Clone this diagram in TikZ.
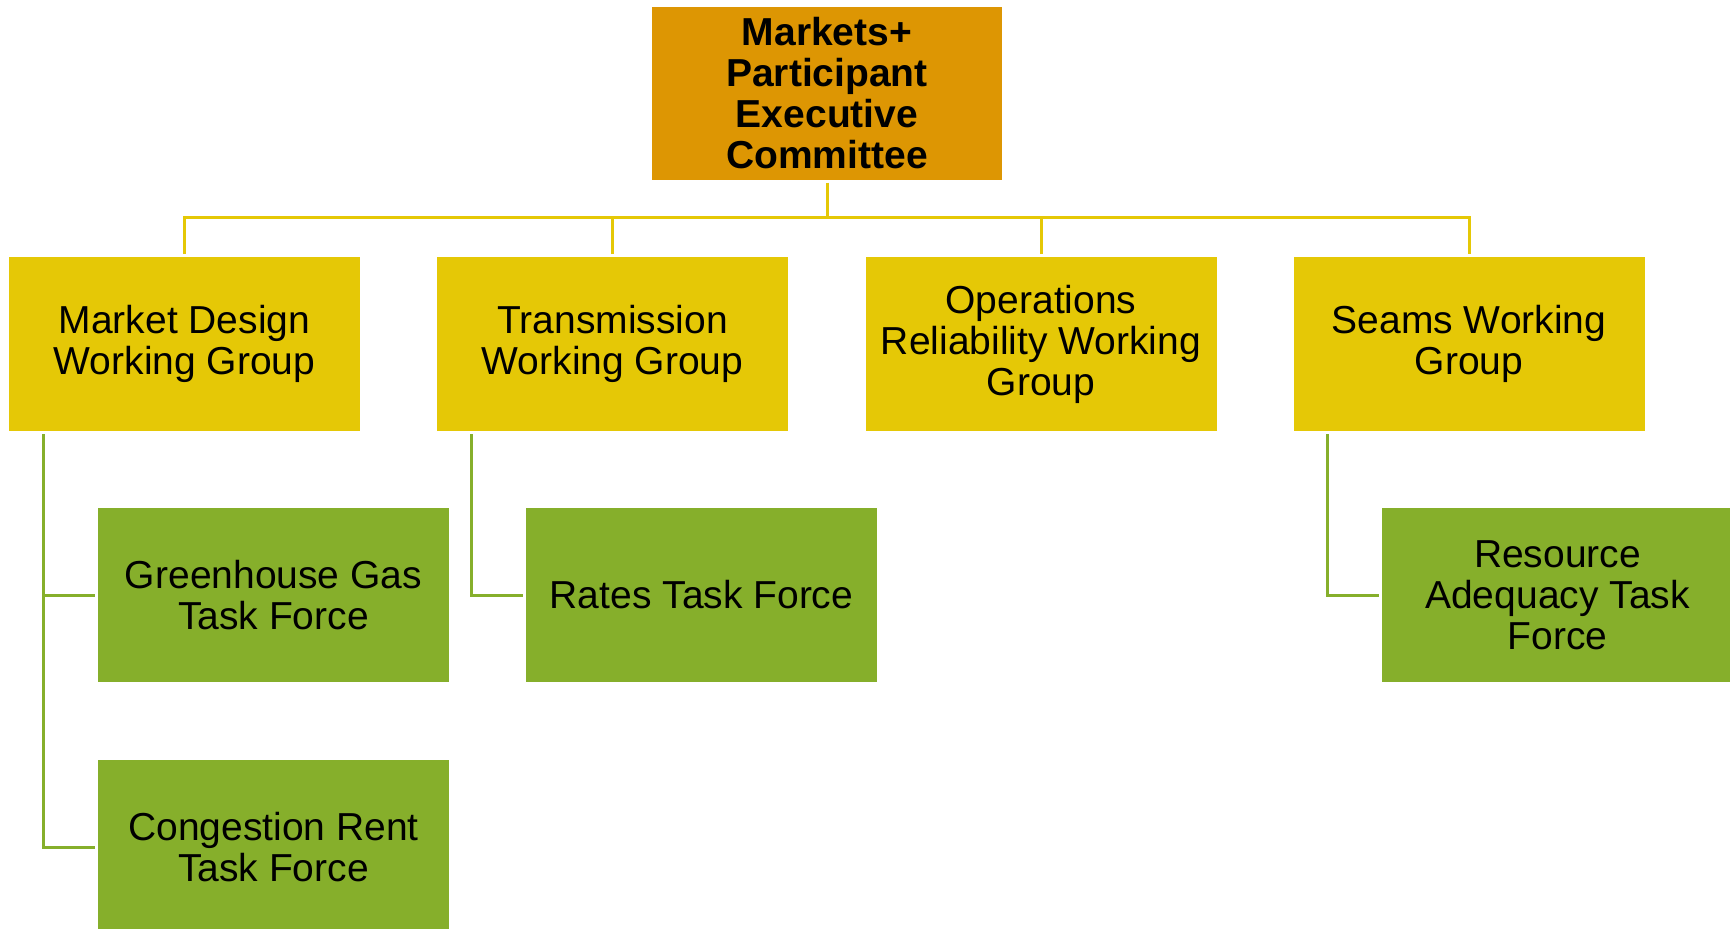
\documentclass[tikz,border=0pt]{standalone}
\usepackage{fontspec}
\setmainfont{Liberation Sans}
\usetikzlibrary{calc}
\definecolor{topcol}{HTML}{DD9603}
\definecolor{wgcol}{HTML}{E5C806}
\definecolor{tfcol}{HTML}{86AF2B}
\tikzset{
  boxbase/.style={minimum width=351pt, minimum height=174pt, inner sep=0pt, outer sep=3pt, align=center, text=black, font=\fontsize{39}{41}\selectfont},
  topbox/.style={boxbase, fill=topcol, minimum width=350pt, minimum height=173pt, font=\fontsize{39}{41}\selectfont\bfseries},
  wgbox/.style={boxbase, fill=wgcol},
  tfbox/.style={boxbase, fill=tfcol},
  yline/.style={draw=wgcol, line width=3pt},
  gline/.style={draw=tfcol, line width=3pt}
}
\begin{document}
\begin{tikzpicture}[x=1pt, y=-1pt]
\useasboundingbox (0,0) rectangle (1730,929);
\node[topbox] (top) at (827,93) {Markets+\\Participant\\Executive\\Committee};
\node[wgbox] (md) at (184.5,344) {Market Design\\Working Group};
\node[wgbox] (tw) at (612.5,344) {Transmission\\Working Group};
\node[wgbox] (or) at (1041,344) {Operations\\Reliability Working\\Group};
\node[wgbox] (sw) at (1469,344) {Seams Working\\Group};
\node[tfbox] (ghg) at (273.5,595) {Greenhouse Gas\\Task Force};
\node[tfbox] (cr) at (273.5,847) {Congestion Rent\\Task Force};
\node[tfbox] (rt) at (701.5,595) {Rates Task Force};
\node[tfbox] (ra) at (1557.5,595) {Resource\\Adequacy Task\\Force};
\coordinate (bus) at ($(top.south)+(0,35)$);
\draw[yline] (top.south) -- (bus);
\draw[yline] (md.north) |- (bus) -| (sw.north);
\draw[yline] (tw.north) -- (tw.north |- bus);
\draw[yline] (or.north) -- (or.north |- bus);
\draw[gline] ($(md.south west)+(37,0)$) |- (ghg.west);
\draw[gline] ($(md.south west)+(37,0)$) |- (cr.west);
\draw[gline] ($(tw.south west)+(37,0)$) |- (rt.west);
\draw[gline] ($(sw.south west)+(37,0)$) |- (ra.west);
\end{tikzpicture}
\end{document}
